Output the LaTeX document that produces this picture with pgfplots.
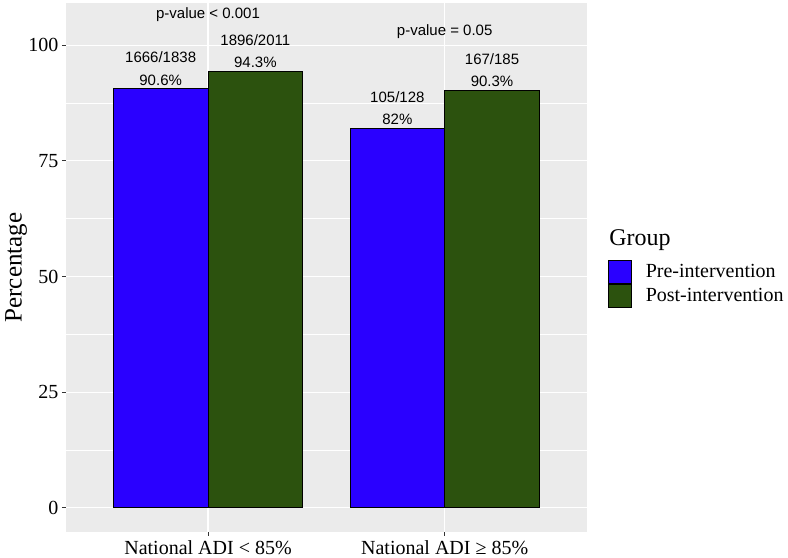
\documentclass[border=0pt]{standalone}
\usepackage{fontspec}
\setmainfont{Liberation Serif}
\newfontfamily\sansfont{Liberation Sans}
\usepackage{pgfplots}
\pgfplotsset{compat=1.18}
\definecolor{ggbg}{RGB}{235,235,235}
\definecolor{preblue}{RGB}{42,0,255}
\definecolor{postgreen}{RGB}{44,82,14}
\definecolor{tickgrey}{RGB}{51,51,51}
\begin{document}
\begin{tikzpicture}
\begin{axis}[
  at={(66bp,26bp)}, anchor=south west,
  scale only axis,
  width=520.7bp, height=529bp,
  xmin=0.4, xmax=2.6,
  ymin=-5.2, ymax=109.1,
  xtick={1,2},
  xticklabels={National ADI < 85\%, National ADI ≥ 85\%},
  ytick={0,25,50,75,100},
  minor ytick={12.5,37.5,62.5,87.5},
  /pgf/number format/assume math mode=true,
  axis background/.style={fill=ggbg},
  axis line style={draw=none},
  xmajorgrids, ymajorgrids, yminorgrids,
  major grid style={white, line width=1.1bp},
  minor grid style={white, line width=0.55bp},
  tick align=outside, tickpos=left,
  major tick length=4bp, minor tick length=0pt,
  tick style={tickgrey, line width=1bp},
  ticklabel style={font=\fontsize{20bp}{24bp}\selectfont, text=black},
  xticklabel style={yshift=-1bp},
  yticklabel style={xshift=0bp},
  ylabel={Percentage},
  every axis y label/.style={at={(axis description cs:-0.096,0.5)}, anchor=center, rotate=90, font=\fontsize{25bp}{30bp}\selectfont},
  ybar, bar width=0.4,
  legend style={at={(axis description cs:1.041,0.515)}, anchor=north west, draw=none, fill=none,
    row sep=0pt, column sep=13bp, inner sep=0pt,
    font=\fontsize{20bp}{24bp}\selectfont,
    nodes={inner sep=0.5bp}},
  legend cell align=left,
  clip=false,
]
\addplot[fill=preblue, draw=black, line width=1bp, bar shift=-0.2,
  legend image code/.code={\draw[fill=preblue, draw=black, line width=1bp] (0bp,-11.5bp) rectangle (23bp,11.5bp);}]
  coordinates {(1,90.6) (2,82)};
\addlegendentry{Pre-intervention}
\addplot[fill=postgreen, draw=black, line width=1bp, bar shift=0.2,
  legend image code/.code={\draw[fill=postgreen, draw=black, line width=1bp] (0bp,-11.5bp) rectangle (23bp,11.5bp);}]
  coordinates {(1,94.3) (2,90.3)};
\addlegendentry{Post-intervention}
\begin{scope}[every node/.style={font=\sansfont\fontsize{15bp}{18bp}\selectfont, inner sep=0pt, anchor=base}]
\node[yshift=3.5bp] at (axis cs:0.8,90.6) {90.6\%};
\node[yshift=26bp] at (axis cs:0.8,90.6) {1666/1838};
\node[yshift=3.5bp] at (axis cs:1.2,94.3) {94.3\%};
\node[yshift=26bp] at (axis cs:1.2,94.3) {1896/2011};
\node[yshift=3.5bp] at (axis cs:1.8,82) {82\%};
\node[yshift=26bp] at (axis cs:1.8,82) {105/128};
\node[yshift=3.5bp] at (axis cs:2.2,90.3) {90.3\%};
\node[yshift=26bp] at (axis cs:2.2,90.3) {167/185};
\node at (axis cs:1,105.7) {p-value < 0.001};
\node at (axis cs:2,102.05) {p-value = 0.05};
\end{scope}
\node[anchor=base west, inner sep=0pt, font=\fontsize{24bp}{28bp}\selectfont] at (axis description cs:1.043,0.5425) {Group};
\end{axis}
\pgfresetboundingbox
\useasboundingbox (0,0) rectangle (788bp,558bp);
\end{tikzpicture}
\end{document}
